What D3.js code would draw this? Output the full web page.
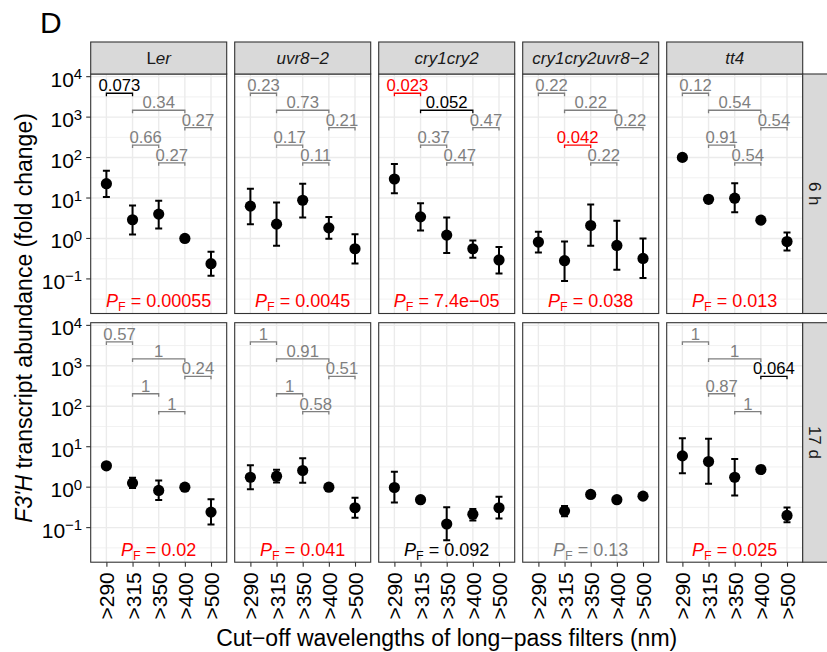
<!DOCTYPE html>
<html>
<head>
  <meta charset="utf-8">
  <title>F3'H transcript abundance</title>
  <script src="https://d3js.org/d3.v7.min.js" charset="utf-8"></script>
  <style>
    body { margin: 0; background: #fff; }
    text { font-family: "Liberation Sans", Arial, Helvetica, sans-serif; }
  </style>
</head>
<body>
  <script>
    var width = 827,
        height = 652;

    // facets
    var genotypes = ["Ler", "uvr8\u22122", "cry1cry2", "cry1cry2uvr8\u22122", "tt4"];
    var times = ["6 h", "17 d"];
    var filters = [">290", ">315", ">350", ">400", ">500"];

    // fold change (mean, lower and upper end of error bar), one row per genotype
    var mean6h = [
      [22.6, 2.9, 4.0, 1.0, 0.238],
      [6.3, 2.26, 8.8, 1.83, 0.557],
      [29.5, 3.42, 1.21, 0.557, 0.294],
      [0.815, 0.282, 2.09, 0.673, 0.321],
      [101, 9.3, 9.9, 2.84, 0.84]
    ];
    var low6h = [
      [10.6, 1.25, 1.76, 1.0, 0.119],
      [2.26, 0.66, 3.3, 0.98, 0.242],
      [13.1, 1.57, 0.436, 0.335, 0.137],
      [0.452, 0.089, 0.66, 0.169, 0.106],
      [101, 9.3, 4.47, 2.84, 0.506]
    ];
    var high6h = [
      [47, 6.5, 8.6, 1.0, 0.47],
      [17, 7.7, 22.6, 3.37, 1.28],
      [69, 7.45, 3.29, 0.89, 0.614],
      [1.46, 0.84, 6.9, 2.73, 1.0],
      [101, 9.3, 23.1, 2.84, 1.4]
    ];
    var mean17d = [
      [3.37, 1.26, 0.83, 1.0, 0.242],
      [1.76, 1.87, 2.58, 1.0, 0.31],
      [0.98, 0.49, 0.123, 0.213, 0.31],
      [null, 0.256, 0.66, 0.49, 0.6],
      [5.93, 4.3, 1.76, 2.73, 0.2]
    ];
    var low17d = [
      [3.37, 0.95, 0.48, 1.0, 0.12],
      [0.89, 1.3, 1.28, 1.0, 0.176],
      [0.42, 0.45, 0.049, 0.149, 0.167],
      [null, 0.19, 0.66, 0.49, 0.6],
      [2.21, 1.21, 0.625, 2.73, 0.135]
    ];
    var high17d = [
      [3.37, 1.7, 1.46, 1.0, 0.5],
      [3.48, 2.68, 5.18, 1.0, 0.548],
      [2.39, 0.54, 0.32, 0.287, 0.58],
      [null, 0.34, 0.66, 0.49, 0.6],
      [16.1, 15.8, 5.0, 2.73, 0.316]
    ];

    // pairwise comparisons: filter index pairs, bracket height, p values
    var pairs = [[0, 1], [1, 3], [3, 4], [1, 2], [2, 3]];
    var pairLevels = [3890, 1480, 550, 204, 74];
    var pairP6h = [
      ["0.073", "0.34", "0.27", "0.66", "0.27"],
      ["0.23", "0.73", "0.21", "0.17", "0.11"],
      ["0.023", "0.052", "0.47", "0.37", "0.47"],
      ["0.22", "0.22", "0.22", "0.042", "0.22"],
      ["0.12", "0.54", "0.54", "0.91", "0.54"]
    ];
    var pairP17d = [
      ["0.57", "1", "0.24", "1", "1"],
      ["1", "0.91", "0.51", "1", "0.58"],
      null,
      null,
      ["1", "1", "0.064", "0.87", "1"]
    ];

    // overall test per panel
    var pF6h = ["0.00055", "0.0045", "7.4e\u221205", "0.038", "0.013"];
    var pF17d = ["0.02", "0.041", "0.092", "0.13", "0.025"];

    var yTicks = [0.1, 1, 10, 100, 1000, 10000];

    var rows = [
      { mean: mean6h, low: low6h, high: high6h, pairP: pairP6h, pF: pF6h },
      { mean: mean17d, low: low17d, high: high17d, pairP: pairP17d, pF: pF17d }
    ];

    // layout
    var left0 = 90.7, panelW = 136, gapX = 8,
        stripTop = 42, stripH = 32,
        rowTop = [74, 322.7], panelH = 239.5,
        rStripW = 25;

    function pColor(p) {
      var v = +p.replace("\u2212", "-");
      if (v < 0.05) return "#FF0000";
      if (v < 0.1) return "#000000";
      return "#7F7F7F";
    }

    var svg = d3.select("body")
                .append("svg")
                .attr("width", width)
                .attr("height", height);

    // panel tag
    svg.append("text")
       .attr("x", 40)
       .attr("y", 33)
       .attr("font-size", 30)
       .text("D");

    rows.forEach(function(row, ri) {
      var top = rowTop[ri], bottom = top + panelH;

      var y = d3.scaleLog()
                .domain([Math.pow(10, -1.855), Math.pow(10, 4.066)])
                .range([bottom, top]);

      // minor breaks sit half way between decades
      var minor = d3.range(-1.5, 4.0, 1).map(function(e) { return Math.pow(10, e); });

      genotypes.forEach(function(gname, gi) {
        var left = left0 + gi * (panelW + gapX);
        var x = d3.scalePoint()
                  .domain(filters)
                  .range([left, left + panelW])
                  .padding(0.6);

        var g = svg.append("g");

        g.append("rect")
         .attr("x", left).attr("y", top)
         .attr("width", panelW).attr("height", panelH)
         .attr("fill", "#fff");

        g.selectAll(".minor")
         .data(minor)
         .enter()
         .append("line")
         .attr("x1", left).attr("x2", left + panelW)
         .attr("y1", function(d) { return y(d); })
         .attr("y2", function(d) { return y(d); })
         .attr("stroke", "#EBEBEB")
         .attr("stroke-width", 0.7);

        g.selectAll(".major")
         .data(yTicks)
         .enter()
         .append("line")
         .attr("x1", left).attr("x2", left + panelW)
         .attr("y1", function(d) { return y(d); })
         .attr("y2", function(d) { return y(d); })
         .attr("stroke", "#EBEBEB")
         .attr("stroke-width", 1.4);

        g.selectAll(".vgrid")
         .data(filters)
         .enter()
         .append("line")
         .attr("x1", function(d) { return x(d); })
         .attr("x2", function(d) { return x(d); })
         .attr("y1", top).attr("y2", bottom)
         .attr("stroke", "#EBEBEB")
         .attr("stroke-width", 1.4);

        // brackets
        var pp = row.pairP[gi];
        if (pp) {
          pairs.forEach(function(pr, k) {
            var c = pColor(pp[k]);
            var x1 = x(filters[pr[0]]), x2 = x(filters[pr[1]]), yy = y(pairLevels[k]);
            g.append("path")
             .attr("d", "M" + x1 + "," + (yy + 3) + "V" + yy + "H" + x2 + "V" + (yy + 3))
             .attr("fill", "none")
             .attr("stroke", c)
             .attr("stroke-width", 1.3);
            g.append("text")
             .attr("x", (x1 + x2) / 2)
             .attr("y", yy - 2)
             .attr("text-anchor", "middle")
             .attr("font-size", 16.7)
             .attr("fill", c)
             .text(pp[k]);
          });
        }

        // points with error bars
        var pts = filters.map(function(f, i) {
          return { f: f, m: row.mean[gi][i], lo: row.low[gi][i], hi: row.high[gi][i] };
        }).filter(function(d) { return d.m != null; });

        g.selectAll(".eb")
         .data(pts.filter(function(d) { return d.hi > d.lo; }))
         .enter()
         .append("path")
         .attr("d", function(d) {
           var cx = x(d.f), a = y(d.hi), b = y(d.lo);
           return "M" + (cx - 3.5) + "," + a + "H" + (cx + 3.5) +
                  "M" + cx + "," + a + "V" + b +
                  "M" + (cx - 3.5) + "," + b + "H" + (cx + 3.5);
         })
         .attr("fill", "none")
         .attr("stroke", "#000")
         .attr("stroke-width", 2);

        g.selectAll(".pt")
         .data(pts)
         .enter()
         .append("circle")
         .attr("cx", function(d) { return x(d.f); })
         .attr("cy", function(d) { return y(d.m); })
         .attr("r", 5.6)
         .attr("fill", "#000");

        // overall p value
        var pf = row.pF[gi];
        var t = g.append("text")
                 .attr("x", x(filters[2]))
                 .attr("y", y(Math.pow(10, -1.7)))
                 .attr("text-anchor", "middle")
                 .attr("font-size", 18)
                 .attr("fill", pColor(pf));
        t.append("tspan").attr("font-style", "italic").text("P");
        t.append("tspan").attr("font-size", 12.5).attr("dy", 4).text("F");
        t.append("tspan").attr("dy", -4).text(" = " + pf);

        // panel border
        g.append("rect")
         .attr("x", left).attr("y", top)
         .attr("width", panelW).attr("height", panelH)
         .attr("fill", "none")
         .attr("stroke", "#333")
         .attr("stroke-width", 1.1);

        // genotype strips on top row
        if (ri === 0) {
          g.append("rect")
           .attr("x", left).attr("y", stripTop)
           .attr("width", panelW).attr("height", stripH)
           .attr("fill", "#D9D9D9")
           .attr("stroke", "#333")
           .attr("stroke-width", 1.1);
          var st = g.append("text")
                    .attr("x", left + panelW / 2)
                    .attr("y", stripTop + stripH / 2 + 6)
                    .attr("text-anchor", "middle")
                    .attr("font-size", 17)
                    .attr("fill", "#1A1A1A");
          if (gname === "Ler") {
            st.append("tspan").text("L");
            st.append("tspan").attr("font-style", "italic").text("er");
          } else {
            st.attr("font-style", "italic").text(gname);
          }
        }

        // x axis on bottom row
        if (ri === rows.length - 1) {
          var xa = g.append("g")
                    .attr("transform", "translate(0," + bottom + ")")
                    .call(d3.axisBottom(x).tickSize(4.5).tickPadding(6));
          xa.select(".domain").remove();
          xa.selectAll(".tick line").attr("stroke", "#333").attr("stroke-width", 1.1);
          xa.selectAll(".tick text")
            .attr("font-family", "Liberation Sans, Arial, sans-serif")
            .attr("font-size", 21)
            .attr("fill", "#000")
            .attr("text-anchor", "end")
            .attr("dy", "0.36em")
            .attr("transform", "translate(0,10) rotate(-90)")
            .attr("x", 0).attr("y", 0);
        }

        // y axis on left column
        if (gi === 0) {
          g.selectAll(".ytick")
           .data(yTicks)
           .enter()
           .append("line")
           .attr("x1", left - 4.5).attr("x2", left)
           .attr("y1", function(d) { return y(d); })
           .attr("y2", function(d) { return y(d); })
           .attr("stroke", "#333")
           .attr("stroke-width", 1.1);
          g.selectAll(".ylab")
           .data(yTicks)
           .enter()
           .append("text")
           .attr("x", left - 8.5)
           .attr("y", function(d) { return y(d) + 10; })
           .attr("text-anchor", "end")
           .attr("font-size", 21)
           .attr("fill", "#000")
           .each(function(d) {
             var e = Math.round(Math.log10(d));
             d3.select(this).append("tspan").text("10");
             d3.select(this).append("tspan")
               .attr("font-size", 15)
               .attr("dy", -7.5)
               .text(String(e).replace("-", "\u2212"));
           });
        }
      });

      // time strip on the right
      var rx = left0 + genotypes.length * (panelW + gapX) - gapX;
      svg.append("rect")
         .attr("x", rx).attr("y", top)
         .attr("width", rStripW + 5).attr("height", panelH)
         .attr("fill", "#D9D9D9")
         .attr("stroke", "#333")
         .attr("stroke-width", 1.1);
      svg.append("text")
         .attr("transform", "translate(" + (rx + rStripW / 2 - 6) + "," + (top + panelH / 2) + ") rotate(90)")
         .attr("text-anchor", "middle")
         .attr("font-size", 17)
         .attr("fill", "#1A1A1A")
         .text(times[ri]);
    });

    // axis titles
    svg.append("text")
       .attr("x", left0 + (5 * panelW + 4 * gapX) / 2)
       .attr("y", 646)
       .attr("text-anchor", "middle")
       .attr("font-size", 23)
       .text("Cut\u2212off wavelengths of long\u2212pass filters (nm)");

    var yt = svg.append("text")
                .attr("transform", "translate(32,318) rotate(-90)")
                .attr("text-anchor", "middle")
                .attr("font-size", 23);
    yt.append("tspan").attr("font-style", "italic").text("F3'H");
    yt.append("tspan").text(" transcript abundance (fold change)");
  </script>
</body>
</html>
